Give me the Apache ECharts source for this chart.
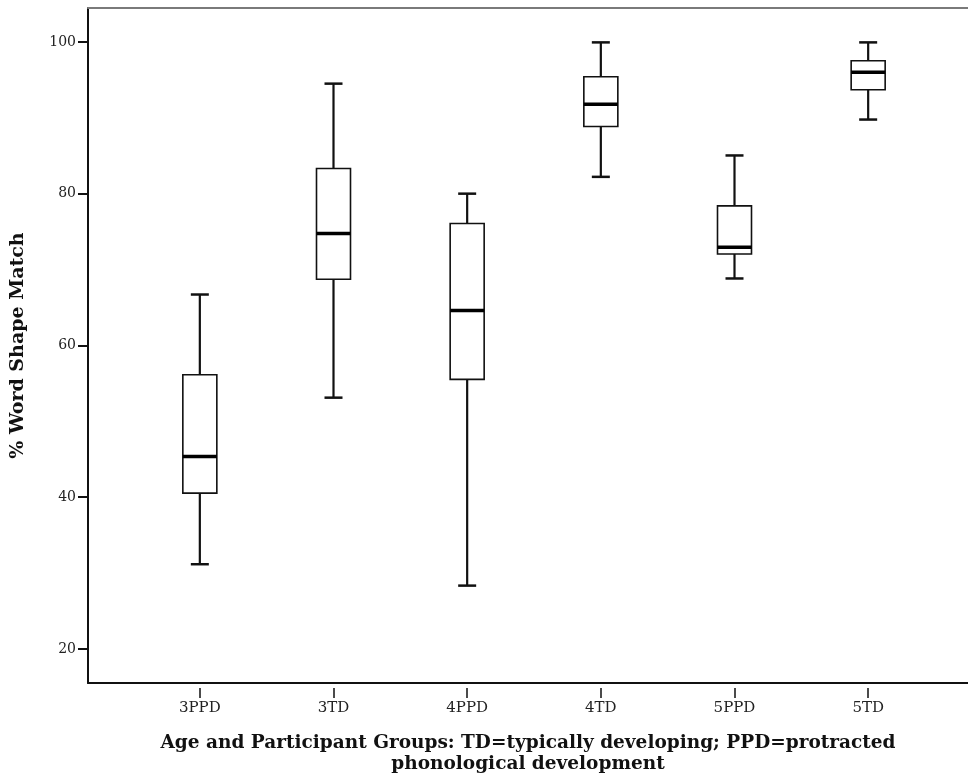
<!DOCTYPE html>
<html>
<head>
<meta charset="utf-8">
<script src="https://cdn.jsdelivr.net/npm/echarts@6/dist/echarts.min.js"></script>
<style>
  html, body { margin: 0; padding: 0; background: #fff; }
  #chart { width: 968px; height: 780px; }
</style>
</head>
<body>
<div id="chart"></div>
<script>
// groups and box statistics (% word shape match)
const categories = ['3PPD', '3TD', '4PPD', '4TD', '5PPD', '5TD']
const lowWhisker = [31.7, 53.5, 28.9, 82.4, 69.1, 89.9]
const q1 = [41.0, 69.0, 55.9, 89.0, 72.3, 93.8]
const median = [45.8, 75.0, 64.9, 91.9, 73.2, 96.1]
const q3 = [56.5, 83.5, 76.3, 95.5, 78.6, 97.6]
const highWhisker = [67.0, 94.6, 80.2, 100, 85.2, 100]
const yTicks = [20, 40, 60, 80, 100]

const boxData = categories.map((c, i) => [i, lowWhisker[i], q1[i], median[i], q3[i], highWhisker[i]])

const serif = '"DejaVu Serif", "Liberation Serif", serif'
const yMin = 15.5
const yMax = 104.5

function renderBox(params, api) {
  const i = api.value(0)
  const x = api.coord([i, 0])[0]
  const yLow = api.coord([i, api.value(1)])[1]
  const yQ1 = api.coord([i, api.value(2)])[1]
  const yMed = api.coord([i, api.value(3)])[1]
  const yQ3 = api.coord([i, api.value(4)])[1]
  const yHigh = api.coord([i, api.value(5)])[1]
  const half = 17
  const cap = 9
  const ink = '#111'
  return {
    type: 'group',
    children: [
      { type: 'line', shape: { x1: x, y1: yQ3, x2: x, y2: yHigh }, style: { stroke: ink, lineWidth: 2.2 } },
      { type: 'line', shape: { x1: x, y1: yQ1, x2: x, y2: yLow }, style: { stroke: ink, lineWidth: 2.2 } },
      { type: 'line', shape: { x1: x - cap, y1: yHigh, x2: x + cap, y2: yHigh }, style: { stroke: ink, lineWidth: 2.5 } },
      { type: 'line', shape: { x1: x - cap, y1: yLow, x2: x + cap, y2: yLow }, style: { stroke: ink, lineWidth: 2.5 } },
      { type: 'rect', shape: { x: x - half, y: yQ3, width: half * 2, height: yQ1 - yQ3 }, style: { fill: '#fff', stroke: ink, lineWidth: 1.6 } },
      { type: 'line', shape: { x1: x - half, y1: yMed, x2: x + half, y2: yMed }, style: { stroke: '#000', lineWidth: 3.5 } }
    ]
  }
}

const chart = echarts.init(document.getElementById('chart'))
chart.setOption({
  animation: false,
  backgroundColor: '#fff',
  grid: [
    { left: 88, right: 0, top: 8, bottom: 92 },
    { left: 133, right: 33, top: 8, bottom: 92 }
  ],
  xAxis: [
    {
      type: 'value', gridIndex: 0, min: 0, max: 1,
      axisLine: { lineStyle: { color: '#111', width: 2 } },
      axisTick: { show: false }, axisLabel: { show: false }, splitLine: { show: false },
      name: 'Age and Participant Groups: TD=typically developing; PPD=protracted\nphonological development',
      nameLocation: 'middle',
      nameGap: 50,
      nameTextStyle: { fontFamily: serif, fontWeight: 'bold', fontSize: 18.5, color: '#111', lineHeight: 21 }
    },
    {
      type: 'value', gridIndex: 0, position: 'top', min: 0, max: 1,
      axisLine: { lineStyle: { color: '#7a7a7a', width: 2 } },
      axisTick: { show: false }, axisLabel: { show: false }, splitLine: { show: false }
    },
    {
      type: 'category', gridIndex: 1, data: categories,
      axisLine: { show: false },
      axisTick: { show: true, alignWithLabel: true, length: 10, lineStyle: { color: '#111', width: 1.5 } },
      axisLabel: { fontFamily: serif, fontSize: 15, color: '#222', margin: 13 }
    }
  ],
  yAxis: [
    {
      type: 'value', gridIndex: 0, min: yMin, max: yMax,
      axisLine: { show: true, lineStyle: { color: '#111', width: 2 } },
      axisTick: { show: true, length: 10, customValues: yTicks, lineStyle: { color: '#111', width: 2 } },
      axisLabel: { fontFamily: serif, fontSize: 14, color: '#222', margin: 12, customValues: yTicks },
      splitLine: { show: false },
      name: '% Word Shape Match',
      nameLocation: 'middle',
      nameGap: 60,
      nameTextStyle: { fontFamily: serif, fontWeight: 'bold', fontSize: 19, color: '#111' }
    },
    {
      type: 'value', gridIndex: 1, min: yMin, max: yMax, show: false
    }
  ],
  series: [
    {
      type: 'custom',
      xAxisIndex: 2,
      yAxisIndex: 1,
      renderItem: renderBox,
      encode: { x: 0, y: [1, 2, 3, 4, 5] },
      data: boxData
    }
  ]
})
</script>
</body>
</html>
